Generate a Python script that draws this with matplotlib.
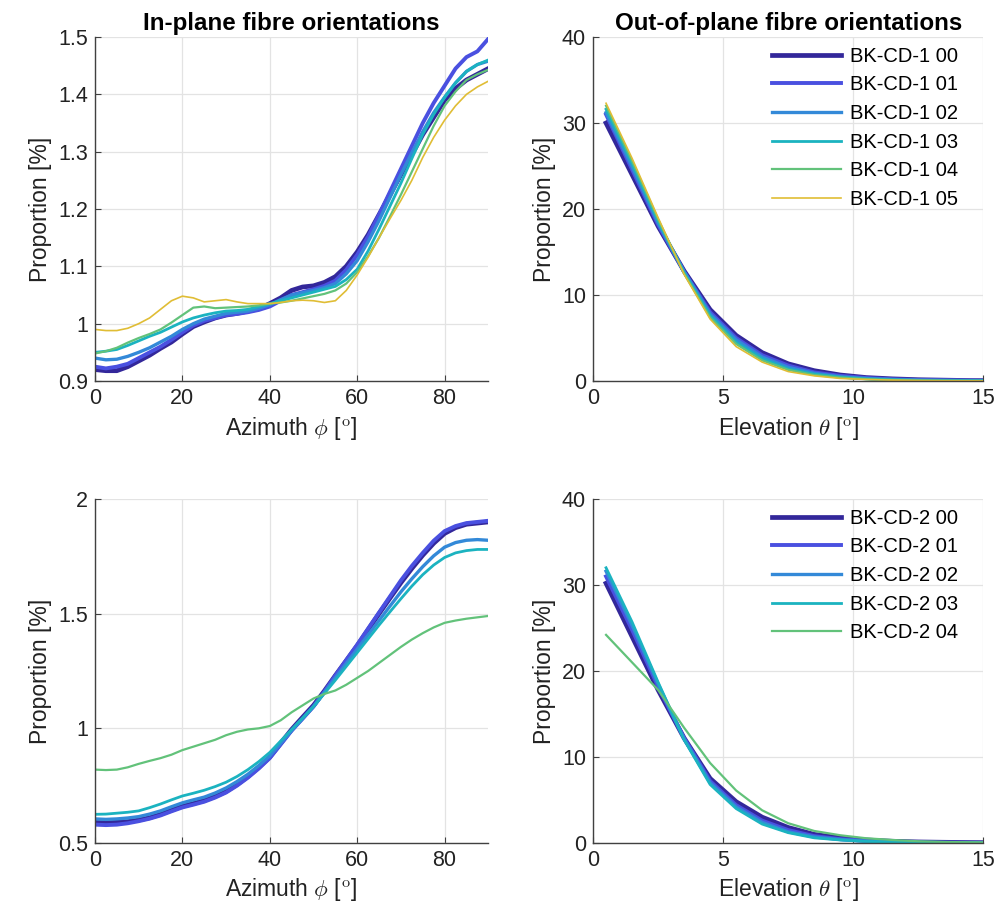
import numpy as np
import matplotlib
matplotlib.use("Agg")
import matplotlib.pyplot as plt
from matplotlib.ticker import FuncFormatter

# ---------------- data ----------------
azimuth = [0, 2.5, 5, 7.5, 10, 12.5, 15, 17.5, 20, 22.5, 25, 27.5, 30, 32.5, 35, 37.5, 40, 42.5,
           45, 47.5, 50, 52.5, 55, 57.5, 60, 62.5, 65, 67.5, 70, 72.5, 75, 77.5, 80, 82.5, 85, 87.5, 90]
elevation = [0.5, 1.5, 2.5, 3.5, 4.5, 5.5, 6.5, 7.5, 8.5, 9.5, 10.5, 11.5, 12.5, 13.5, 14.5, 15.5]

labels_cd1 = ["BK-CD-1 00", "BK-CD-1 01", "BK-CD-1 02", "BK-CD-1 03", "BK-CD-1 04", "BK-CD-1 05"]
labels_cd2 = ["BK-CD-2 00", "BK-CD-2 01", "BK-CD-2 02", "BK-CD-2 03", "BK-CD-2 04"]

inplane_cd1 = [
    [0.920, 0.918, 0.918, 0.925, 0.935, 0.945, 0.957, 0.968, 0.982, 0.995, 1.003, 1.010, 1.015, 1.018, 1.022, 1.026, 1.035, 1.045, 1.058,
     1.064, 1.066, 1.072, 1.082, 1.100, 1.125, 1.155, 1.190, 1.225, 1.260, 1.295, 1.330, 1.360, 1.390, 1.410, 1.425, 1.435, 1.445],
    [0.925, 0.922, 0.925, 0.930, 0.940, 0.950, 0.960, 0.972, 0.985, 0.997, 1.005, 1.010, 1.015, 1.017, 1.020, 1.024, 1.030, 1.040, 1.050,
     1.055, 1.060, 1.066, 1.075, 1.094, 1.120, 1.152, 1.190, 1.230, 1.270, 1.310, 1.350, 1.385, 1.415, 1.445, 1.465, 1.475, 1.497],
    [0.940, 0.937, 0.938, 0.943, 0.950, 0.958, 0.968, 0.978, 0.990, 1.000, 1.008, 1.013, 1.018, 1.020, 1.022, 1.027, 1.033, 1.042, 1.050,
     1.054, 1.058, 1.063, 1.070, 1.087, 1.110, 1.143, 1.180, 1.220, 1.260, 1.298, 1.335, 1.368, 1.395, 1.420, 1.440, 1.452, 1.458],
    [0.950, 0.952, 0.955, 0.962, 0.970, 0.978, 0.985, 0.994, 1.003, 1.010, 1.015, 1.019, 1.022, 1.023, 1.025, 1.030, 1.035, 1.040, 1.045,
     1.050, 1.055, 1.060, 1.065, 1.077, 1.095, 1.127, 1.165, 1.205, 1.245, 1.288, 1.330, 1.365, 1.395, 1.420, 1.440, 1.452, 1.460],
    [0.948, 0.952, 0.958, 0.967, 0.975, 0.982, 0.990, 1.002, 1.015, 1.028, 1.030, 1.027, 1.028, 1.029, 1.030, 1.032, 1.035, 1.037, 1.040,
     1.044, 1.048, 1.052, 1.058, 1.070, 1.090, 1.118, 1.150, 1.187, 1.225, 1.265, 1.305, 1.345, 1.380, 1.405, 1.425, 1.435, 1.443],
    [0.990, 0.988, 0.988, 0.992, 1.000, 1.010, 1.025, 1.040, 1.048, 1.045, 1.038, 1.040, 1.042, 1.038, 1.035, 1.035, 1.035, 1.037, 1.040,
     1.041, 1.040, 1.037, 1.040, 1.058, 1.085, 1.116, 1.150, 1.183, 1.215, 1.250, 1.290, 1.325, 1.355, 1.380, 1.400, 1.413, 1.423],
]

outplane_cd1 = [
    [30.0, 24.0, 18.0, 12.8, 8.3, 5.3, 3.3, 2.0, 1.2, 0.70, 0.40, 0.25, 0.15, 0.10, 0.05, 0.04],
    [31.0, 24.6, 18.2, 12.7, 8.0, 5.0, 3.0, 1.8, 1.0, 0.60, 0.35, 0.20, 0.12, 0.08, 0.05, 0.03],
    [31.2, 24.9, 18.4, 12.7, 7.8, 4.8, 2.8, 1.6, 0.9, 0.50, 0.30, 0.18, 0.10, 0.07, 0.04, 0.03],
    [31.6, 25.3, 18.6, 12.6, 7.6, 4.5, 2.6, 1.4, 0.8, 0.45, 0.25, 0.15, 0.08, 0.05, 0.03, 0.02],
    [32.0, 25.6, 18.8, 12.5, 7.4, 4.3, 2.4, 1.3, 0.7, 0.40, 0.22, 0.12, 0.07, 0.04, 0.02, 0.02],
    [32.3, 25.9, 19.0, 12.4, 7.2, 4.0, 2.2, 1.1, 0.6, 0.30, 0.18, 0.10, 0.05, 0.03, 0.02, 0.01],
]

inplane_cd2 = [
    [0.590, 0.588, 0.590, 0.593, 0.600, 0.610, 0.625, 0.643, 0.660, 0.672, 0.685, 0.703, 0.725, 0.755, 0.790, 0.830, 0.875, 0.935, 0.995,
     1.048, 1.100, 1.163, 1.230, 1.295, 1.360, 1.430, 1.500, 1.568, 1.635, 1.697, 1.755, 1.807, 1.850, 1.875, 1.890, 1.895, 1.900],
    [0.580, 0.578, 0.580, 0.586, 0.595, 0.606, 0.620, 0.638, 0.655, 0.667, 0.680, 0.698, 0.720, 0.750, 0.785, 0.825, 0.870, 0.930, 0.990,
     1.042, 1.095, 1.160, 1.230, 1.298, 1.365, 1.435, 1.505, 1.575, 1.645, 1.708, 1.765, 1.818, 1.860, 1.882, 1.895, 1.900, 1.905],
    [0.605, 0.603, 0.605, 0.609, 0.615, 0.626, 0.640, 0.658, 0.675, 0.688, 0.700, 0.718, 0.740, 0.768, 0.800, 0.838, 0.880, 0.935, 0.990,
     1.042, 1.095, 1.157, 1.220, 1.283, 1.345, 1.408, 1.470, 1.533, 1.595, 1.652, 1.705, 1.752, 1.790, 1.810, 1.820, 1.823, 1.820],
    [0.625, 0.626, 0.630, 0.634, 0.640, 0.654, 0.670, 0.688, 0.705, 0.717, 0.730, 0.746, 0.765, 0.790, 0.820, 0.855, 0.895, 0.945, 0.995,
     1.045, 1.095, 1.152, 1.210, 1.270, 1.330, 1.390, 1.450, 1.508, 1.565, 1.620, 1.670, 1.712, 1.745, 1.765, 1.775, 1.780, 1.780],
    [0.820, 0.818, 0.820, 0.830, 0.845, 0.858, 0.870, 0.885, 0.905, 0.920, 0.935, 0.950, 0.970, 0.985, 0.995, 1.000, 1.010, 1.035, 1.070,
     1.100, 1.130, 1.150, 1.165, 1.190, 1.220, 1.250, 1.285, 1.320, 1.355, 1.387, 1.415, 1.440, 1.460, 1.470, 1.478, 1.484, 1.490],
]

outplane_cd2 = [
    [30.2, 24.0, 17.8, 12.2, 7.5, 4.8, 3.0, 1.8, 1.0, 0.60, 0.35, 0.20, 0.12, 0.08, 0.05, 0.03],
    [31.0, 24.8, 18.2, 12.2, 7.2, 4.4, 2.6, 1.5, 0.8, 0.45, 0.25, 0.15, 0.08, 0.05, 0.03, 0.02],
    [31.6, 25.3, 18.5, 12.1, 7.0, 4.2, 2.4, 1.3, 0.7, 0.40, 0.20, 0.12, 0.07, 0.04, 0.03, 0.02],
    [32.0, 25.7, 18.7, 12.0, 6.8, 4.0, 2.2, 1.2, 0.6, 0.35, 0.18, 0.10, 0.06, 0.04, 0.02, 0.01],
    [24.2, 21.0, 17.8, 13.4, 9.3, 6.1, 3.8, 2.3, 1.4, 0.90, 0.55, 0.35, 0.20, 0.12, 0.08, 0.05],
]

# ---------------- style ----------------
colors = ["#33279a", "#4a50e0", "#3389d8", "#1bb3c0", "#62c27a", "#e0bd35"]
widths = [3.4, 2.8, 2.4, 2.0, 1.6, 1.2]

plt.rcParams['font.family'] = ['Liberation Sans', 'DejaVu Sans']
plt.rcParams['mathtext.fontset'] = 'cm'

fig = plt.figure(figsize=(10.06, 9.21), dpi=100)

def make_ax(rect):
    ax = fig.add_axes(rect)
    ax.grid(True, color="#e3e3e3", linewidth=0.9)
    ax.set_axisbelow(True)
    for s in ["top", "right"]:
        ax.spines[s].set_visible(False)
    for s in ["left", "bottom"]:
        ax.spines[s].set_color("#404040")
        ax.spines[s].set_linewidth(1.0)
    ax.tick_params(direction="in", length=4, width=0.8, color="#404040",
                   labelsize=15.5, labelcolor="#222222", pad=5)
    ax.yaxis.set_major_formatter(FuncFormatter(lambda v, p: "%g" % round(v, 3)))
    return ax

W1, W2 = 0.391, 0.388
L1, L2 = 0.0944, 0.5895
H = 0.3735
B_top, B_bot = 0.5863, 0.0847

title_font = dict(family=['Liberation Sans', 'DejaVu Sans'], fontsize=17.4, fontweight='bold')
label_font = dict(fontsize=16.5, color="#222222")
xl_az = r'Azimuth $\phi$ [$^\mathrm{o}$]'
xl_el = r'Elevation $\theta$ [$^\mathrm{o}$]'
leg_kw = dict(loc="upper right", frameon=False, fontsize=14.5, handlelength=3.4,
              handletextpad=0.45, labelspacing=0.48, borderaxespad=0.0,
              bbox_to_anchor=(0.955, 0.995))

# Top-left
ax1 = make_ax([L1, B_top, W1, H])
for vals, c, w in zip(inplane_cd1, colors, widths):
    ax1.plot(azimuth, vals, color=c, linewidth=w)
ax1.set_xlim(0, 90)
ax1.set_ylim(0.9, 1.5)
ax1.set_xticks([0, 20, 40, 60, 80])
ax1.set_yticks([0.9, 1.0, 1.1, 1.2, 1.3, 1.4, 1.5])
ax1.set_title("In-plane fibre orientations", pad=5, **title_font)
ax1.set_xlabel(xl_az, **label_font)
ax1.set_ylabel("Proportion [%]", **label_font)

# Top-right
ax2 = make_ax([L2, B_top, W2, H])
for vals, c, w, lab in zip(outplane_cd1, colors, widths, labels_cd1):
    ax2.plot(elevation, vals, color=c, linewidth=w, label=lab)
ax2.set_xlim(0, 15)
ax2.set_ylim(0, 40)
ax2.set_xticks([0, 5, 10, 15])
ax2.set_yticks([0, 10, 20, 30, 40])
ax2.set_title("Out-of-plane fibre orientations", pad=5, **title_font)
ax2.set_xlabel(xl_el, **label_font)
ax2.set_ylabel("Proportion [%]", **label_font)
ax2.legend(**leg_kw)

# Bottom-left
ax3 = make_ax([L1, B_bot, W1, H])
for vals, c, w in zip(inplane_cd2, colors, widths):
    ax3.plot(azimuth, vals, color=c, linewidth=w)
ax3.set_xlim(0, 90)
ax3.set_ylim(0.5, 2.0)
ax3.set_xticks([0, 20, 40, 60, 80])
ax3.set_yticks([0.5, 1.0, 1.5, 2.0])
ax3.set_xlabel(xl_az, **label_font)
ax3.set_ylabel("Proportion [%]", **label_font)

# Bottom-right
ax4 = make_ax([L2, B_bot, W2, H])
for vals, c, w, lab in zip(outplane_cd2, colors, widths, labels_cd2):
    ax4.plot(elevation, vals, color=c, linewidth=w, label=lab)
ax4.set_xlim(0, 15)
ax4.set_ylim(0, 40)
ax4.set_xticks([0, 5, 10, 15])
ax4.set_yticks([0, 10, 20, 30, 40])
ax4.set_xlabel(xl_el, **label_font)
ax4.set_ylabel("Proportion [%]", **label_font)
ax4.legend(**leg_kw)

fig.savefig("out.png", dpi=100)
